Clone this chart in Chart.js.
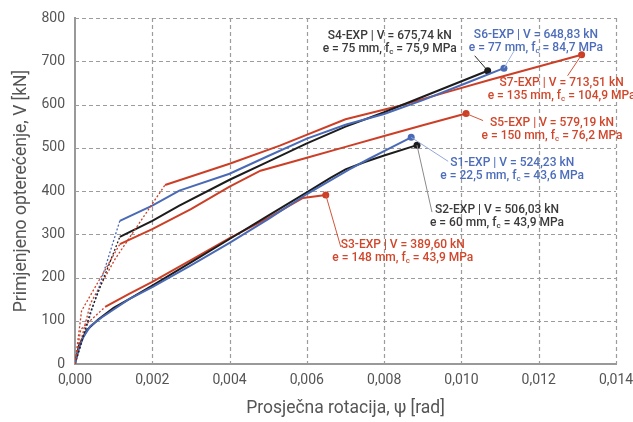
<!DOCTYPE html>
<html><head><meta charset="utf-8">
<script src="https://cdn.jsdelivr.net/npm/chart.js@4.4.1/dist/chart.umd.min.js"></script>
<style>html,body{margin:0;padding:0;background:#fff}#wrap{width:633px;height:422px}</style>
</head><body><div id="wrap"><canvas id="c" width="633" height="422"></canvas></div>
<script>
// ---- data (psi in rad, V in kN) ----
const xTicks = [0, 0.002, 0.004, 0.006, 0.008, 0.010, 0.012, 0.014];
const yTicks = [0, 100, 200, 300, 400, 500, 600, 700, 800];

const s1Psi = [0, 0.0001, 0.0002, 0.0004, 0.0007, 0.001, 0.0014, 0.002, 0.003, 0.004, 0.005, 0.006, 0.0071, 0.0076, 0.0081, 0.0087];
const s1V   = [0, 35, 60, 88, 108, 126, 150, 178, 228, 280, 335, 393, 450, 474, 497, 524];

const s2Psi = [0, 0.0001, 0.0003, 0.0006, 0.001, 0.0014, 0.002, 0.003, 0.004, 0.005, 0.006, 0.0066, 0.007, 0.0075, 0.008, 0.00885];
const s2V   = [0, 42, 78, 103, 130, 150, 181, 235, 289, 343, 397, 430, 450, 467, 482, 506];

const s3PsiPre = [0, 0.00015, 0.00078];
const s3VPre   = [0, 80, 132];
const s3Psi = [0.00078, 0.0014, 0.002, 0.003, 0.004, 0.005, 0.0059, 0.00649];
const s3V   = [132, 162, 190, 240, 291, 338, 384, 391];

const s4PsiPre = [0, 0.0004, 0.00116];
const s4VPre   = [0, 120, 294];
const s4Psi = [0.00116, 0.002, 0.0027, 0.004, 0.005, 0.006, 0.007, 0.008, 0.009, 0.01068];
const s4V   = [294, 331, 366, 426, 468, 510, 549, 582, 618, 678];

const s5PsiPre = [0, 0.00017, 0.00116];
const s5VPre   = [0, 123, 277];
const s5Psi = [0.00116, 0.002, 0.003, 0.004, 0.0048, 0.006, 0.007, 0.008, 0.009, 0.01012];
const s5V   = [277, 312, 358, 410, 447, 477, 502, 527, 552, 579];

const s6PsiPre = [0, 0.00116];
const s6VPre   = [0, 331];
const s6Psi = [0.00116, 0.002, 0.0027, 0.004, 0.005, 0.006, 0.007, 0.008, 0.009, 0.010, 0.0111];
const s6V   = [331, 366, 401, 440, 481, 521, 553, 578, 610, 645, 684];

const s7PsiPre = [0, 0.0004, 0.00104, 0.00233];
const s7VPre   = [0, 140, 243, 414];
const s7Psi = [0.00233, 0.004, 0.0053, 0.007, 0.0084, 0.0096, 0.0107, 0.01311];
const s7V   = [414, 463, 505, 566, 597, 628, 656, 715];

const specNames = ['S1', 'S2', 'S3', 'S4', 'S5', 'S6', 'S7'];
const specVText = ['524,23', '506,03', '389,60', '675,74', '579,19', '648,83', '713,51'];
const specEText = ['22,5', '60', '148', '75', '150', '77', '135'];
const specFcText = ['43,6', '43,9', '43,9', '75,9', '76,2', '84,7', '104,9'];

// ---- styling ----
const RED = '#cc3f27', BLUE = '#4a6ab5', BLACK = '#1c1c1c';
const seriesColor = {S1: BLUE, S2: BLACK, S3: RED, S4: BLACK, S5: RED, S6: BLUE, S7: RED};
const textColor = {S1: '#4d6dba', S2: '#3a3a3a', S3: '#d0472c', S4: '#3a3a3a', S5: '#d0472c', S6: '#4d6dba', S7: '#d0472c'};
const leaderColor = {S1: '#93a7d8', S2: '#8a8a8a', S3: '#d2553a', S4: '#222', S5: '#d2553a', S6: '#a0b4e2', S7: '#d2553a'};
// label placement relative to the end point (px): text centre (dx,dy of line 1) and leader end (lx,ly)
const labelPlace = {
  S1: {dx: 101, dy: 26, lx: 37, ly: 24},
  S2: {dx: 80, dy: 65, lx: 15, ly: 67},
  S3: {dx: 77, dy: 50, lx: 15, ly: 52},
  S4: {dx: -98, dy: -35, lx: -13, ly: -15},
  S5: {dx: 86, dy: 9, lx: 17, ly: 7},
  S6: {dx: 32, dy: -33, lx: 10, ly: -17},
  S7: {dx: -20, dy: 28, lx: -14, ly: 21}
};

const pts = (xs, ys) => xs.map((x, i) => ({x: x, y: ys[i]}));
function pre(name, xs, ys) {
  return {label: name + ' pre', data: pts(xs, ys), showLine: true, borderColor: seriesColor[name],
    borderWidth: 1.3, borderDash: [2, 2], pointRadius: 0, fill: false, tension: 0};
}
function main(name, xs, ys) {
  const n = xs.length - 1;
  return {label: name, data: pts(xs, ys), showLine: true, borderColor: seriesColor[name],
    backgroundColor: seriesColor[name], borderWidth: 2, fill: false, tension: 0,
    pointRadius: ctx => ctx.dataIndex === n ? 3.5 : 0,
    pointBackgroundColor: seriesColor[name], pointBorderWidth: 0, specimen: name};
}

const datasets = [
  pre('S3', s3PsiPre, s3VPre), pre('S5', s5PsiPre, s5VPre), pre('S4', s4PsiPre, s4VPre),
  pre('S6', s6PsiPre, s6VPre), pre('S7', s7PsiPre, s7VPre),
  main('S1', s1Psi, s1V), main('S2', s2Psi, s2V), main('S3', s3Psi, s3V),
  main('S5', s5Psi, s5V), main('S6', s6Psi, s6V), main('S4', s4Psi, s4V), main('S7', s7Psi, s7V)
];

// dashed grid drawn from the library's scales
const gridPlugin = {
  id: 'dashGrid',
  beforeDatasetsDraw(chart) {
    const {ctx, chartArea: a, scales: {x, y}} = chart;
    ctx.save();
    ctx.strokeStyle = '#9c9c9c';
    ctx.lineWidth = 1.2;
    ctx.setLineDash([4, 3]);
    xTicks.slice(1).forEach(v => {
      const px = Math.round(x.getPixelForValue(v)) + 0.5;
      ctx.beginPath(); ctx.moveTo(px, a.top); ctx.lineTo(px, a.bottom); ctx.stroke();
    });
    yTicks.slice(1).forEach(v => {
      const py = Math.round(y.getPixelForValue(v)) + 0.5;
      ctx.beginPath(); ctx.moveTo(a.left, py); ctx.lineTo(a.right, py); ctx.stroke();
    });
    ctx.restore();
  }
};

const labelFont = '500 12px Roboto';
const subFont = '500 8px Roboto';
const labelPlugin = {
  id: 'endLabels',
  afterDatasetsDraw(chart) {
    const ctx = chart.ctx;
    chart.data.datasets.forEach((ds, di) => {
      if (!ds.specimen) return;
      const name = ds.specimen;
      const k = specNames.indexOf(name);
      const meta = chart.getDatasetMeta(di);
      const last = meta.data[meta.data.length - 1];
      const px = last.x, py = last.y;
      const p = labelPlace[name];
      ctx.save();
      ctx.strokeStyle = leaderColor[name];
      ctx.lineWidth = 1;
      ctx.beginPath();
      ctx.moveTo(px, py);
      ctx.lineTo(px + p.lx, py + p.ly);
      ctx.stroke();
      ctx.fillStyle = textColor[name];
      ctx.textBaseline = 'middle';
      ctx.textAlign = 'left';
      ctx.font = labelFont;
      const line1 = name + '-EXP | V = ' + specVText[k] + ' kN';
      const w1 = ctx.measureText(line1).width;
      const cx = px + p.dx, cy = py + p.dy;
      ctx.fillText(line1, cx - w1 / 2, cy);
      const a = 'e = ' + specEText[k] + ' mm, f';
      const b = 'c';
      const c = ' = ' + specFcText[k] + ' MPa';
      const wa = ctx.measureText(a).width;
      const wc = ctx.measureText(c).width;
      ctx.font = subFont;
      const wb = ctx.measureText(b).width;
      const total = wa + wb + wc;
      let x = cx - total / 2;
      const y2 = cy + 13;
      ctx.font = labelFont;
      ctx.fillText(a, x, y2); x += wa;
      ctx.font = subFont;
      ctx.fillText(b, x, y2 + 3); x += wb;
      ctx.font = labelFont;
      ctx.fillText(c, x, y2);
      ctx.restore();
    });
  }
};

new Chart(document.getElementById('c'), {
  type: 'scatter',
  data: {datasets: datasets},
  options: {
    responsive: false, animation: false, devicePixelRatio: 1,
    layout: {padding: {top: 18, right: 17, left: 0, bottom: 0}},
    plugins: {legend: {display: false}, tooltip: {enabled: false}},
    scales: {
      x: {
        type: 'linear', min: xTicks[0], max: xTicks[xTicks.length - 1],
        afterBuildTicks: s => { s.ticks = xTicks.map(v => ({value: v})); },
        ticks: {color: '#555', font: {family: 'Roboto', size: 14}, padding: 8,
          callback: v => v.toFixed(3).replace('.', ','), maxRotation: 0, autoSkip: false},
        grid: {display: false, drawTicks: false},
        border: {display: true, color: '#999', width: 2},
        title: {display: true, text: 'Prosječna rotacija, ψ [rad]', color: '#555',
          font: {family: 'Roboto', size: 17.5}, padding: {top: 0, bottom: 3}},
        afterFit: s => { s.height = 58; s.paddingLeft = 0; s.paddingRight = 0; }
      },
      y: {
        type: 'linear', min: yTicks[0], max: yTicks[yTicks.length - 1],
        afterBuildTicks: s => { s.ticks = yTicks.map(v => ({value: v})); },
        ticks: {color: '#555', font: {family: 'Roboto', size: 14}, padding: 10},
        grid: {display: false, drawTicks: false},
        border: {display: true, color: '#999', width: 2},
        title: {display: true, text: 'Primjenjeno opterećenje, V [kN]', color: '#555',
          font: {family: 'Roboto', size: 17.5}, padding: {top: 11, bottom: 0}},
        afterFit: s => { s.width = 75; s.paddingTop = 0; s.paddingBottom = 0; }
      }
    }
  },
  plugins: [gridPlugin, labelPlugin]
});
</script></body></html>
